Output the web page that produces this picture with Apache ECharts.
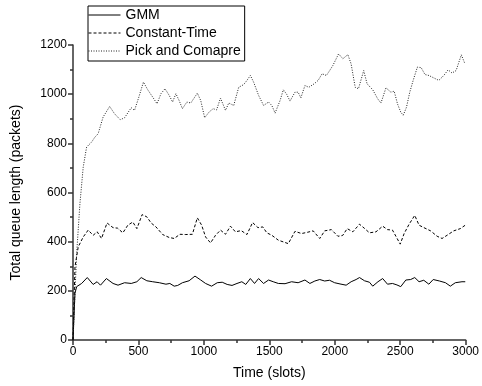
<!DOCTYPE html>
<html>
<head>
<meta charset="utf-8">
<script src="https://cdn.jsdelivr.net/npm/echarts@6/dist/echarts.min.js"></script>
<style>
html,body{margin:0;padding:0;background:#fff;}
#chartmain{width:482px;height:386px;}
</style>
</head>
<body>
<div id="chartmain"></div>
<script>
var seriesNames = ['GMM', 'Constant-Time', 'Pick and Comapre'];

var gmmTime = [0,15,28,40,66,109,154,184,210,255,306,344,394,445,488,521,564,609,660,710,740,773,800,836,887,932,976,1013,1059,1102,1140,1178,1215,1253,1290,1320,1355,1387,1418,1456,1494,1530,1569,1620,1670,1720,1772,1810,1848,1885,1923,1960,1999,2040,2087,2125,2163,2189,2227,2265,2290,2330,2366,2403,2441,2475,2504,2543,2580,2611,2644,2680,2719,2752,2800,2846,2883,2921,2972,2997];
var gmmQueue = [0,190,217,222,230,254,226,237,223,250,230,223,233,230,237,254,241,237,233,227,230,219,222,233,241,260,244,230,219,233,235,226,222,230,237,226,250,230,250,230,244,237,230,229,237,233,244,230,240,246,240,243,233,228,223,237,246,254,241,235,219,237,250,227,230,224,217,244,246,254,237,243,227,246,240,233,219,233,237,237];

var ctTime = [0,15,40,78,116,154,185,218,260,306,340,381,419,457,488,528,564,597,634,685,735,773,817,862,912,950,983,1013,1051,1089,1127,1165,1203,1241,1285,1329,1372,1413,1450,1481,1519,1569,1645,1696,1746,1790,1835,1885,1923,1974,2024,2060,2095,2138,2189,2225,2265,2315,2366,2403,2441,2467,2500,2530,2568,2611,2644,2681,2732,2782,2820,2858,2909,2959,2997];
var ctQueue = [0,298,379,419,447,426,440,413,476,457,455,436,467,480,453,510,501,476,460,429,417,413,430,429,430,497,467,419,395,426,447,430,463,440,445,429,478,457,460,436,426,406,392,442,433,438,444,413,444,449,422,425,453,440,471,455,436,440,463,449,447,422,390,433,471,507,467,457,444,422,413,426,444,453,467];

var pcTime = [0,28,53,78,104,142,167,192,230,280,318,361,394,445,470,503,538,571,609,642,672,703,735,761,786,811,836,870,900,950,976,1006,1039,1071,1097,1127,1165,1190,1228,1266,1304,1329,1355,1380,1418,1456,1494,1519,1544,1582,1607,1632,1658,1696,1720,1741,1772,1802,1842,1873,1903,1936,1961,1986,2029,2062,2100,2125,2156,2181,2221,2247,2290,2328,2353,2391,2429,2454,2479,2504,2523,2548,2573,2599,2631,2660,2689,2719,2757,2795,2833,2866,2896,2927,2967,2992];
var pcQueue = [0,352,555,703,785,805,825,839,907,950,920,896,904,945,934,988,1049,1018,988,961,1002,1022,995,968,1002,974,941,968,964,1004,974,904,927,941,936,984,934,964,954,1028,1039,1056,1076,1049,995,954,968,954,923,974,1018,1000,972,1008,1008,985,1035,1028,1042,1056,1083,1076,1096,1117,1164,1144,1161,1123,1028,1022,1096,1042,1018,981,964,1026,1008,1012,961,927,914,947,1008,1056,1110,1108,1080,1076,1066,1056,1076,1099,1086,1096,1160,1127];

function pairs(t, v){
	var out = [];
	for(var i=0;i<t.length;i++){
		out.push([t[i], v[i]]);
	}
	return out;
}

var font = 'Arial, "Liberation Sans", sans-serif';
var plain = function(v){ return String(v); };
var myChart = echarts.init(document.getElementById('chartmain'), null, {renderer:'canvas'});
var option = {
	animation: false,
	backgroundColor: '#fff',
	grid: {
		left: 73,
		right: 13,
		top: 45,
		bottom: 46
	},
	legend: {
		data: seriesNames,
		orient: 'vertical',
		left: 88,
		top: 6,
		padding: [2, 4, 3, 0],
		itemGap: 4,
		itemWidth: 32,
		itemHeight: 14,
		borderColor: '#000',
		borderWidth: 1,
		borderRadius: 0,
		itemStyle: {opacity: 0},
		lineStyle: {width: 1},
		textStyle: {color:'#000', fontSize:14, fontFamily:font}
	},
	xAxis: {
		type: 'value',
		min: 0,
		max: 3000,
		interval: 500,
		name: 'Time (slots)',
		nameLocation: 'middle',
		nameGap: 26,
		nameTextStyle: {color:'#000', fontSize:14, fontFamily:font},
		axisLine: {lineStyle:{color:'#333', width:1.5}},
		axisTick: {length:5, lineStyle:{color:'#333', width:1.5}},
		minorTick: {show:true, splitNumber:2, length:3, lineStyle:{color:'#333', width:1.5}},
		axisLabel: {color:'#000', fontSize:12, fontFamily:font, margin:6, formatter:plain},
		splitLine: {show:false}
	},
	yAxis: {
		type: 'value',
		min: 0,
		max: 1200,
		interval: 200,
		name: 'Total queue length (packets)',
		nameLocation: 'middle',
		nameGap: 50,
		nameTextStyle: {color:'#000', fontSize:14, fontFamily:font},
		axisLine: {show:true, lineStyle:{color:'#333', width:1.5}},
		axisTick: {show:true, length:5, lineStyle:{color:'#333', width:1.5}},
		minorTick: {show:true, splitNumber:2, length:3, lineStyle:{color:'#333', width:1.5}},
		axisLabel: {color:'#000', fontSize:12, fontFamily:font, margin:6, formatter:plain},
		splitLine: {show:false}
	},
	series: [
		{
			name: seriesNames[0],
			type: 'line',
			symbol: 'none',
			data: pairs(gmmTime, gmmQueue),
			lineStyle: {color:'#000', width:1, type:'solid'},
			itemStyle: {color:'#000'}
		},
		{
			name: seriesNames[1],
			type: 'line',
			symbol: 'none',
			data: pairs(ctTime, ctQueue),
			lineStyle: {color:'#000', width:1, type:[3,2]},
			itemStyle: {color:'#000'}
		},
		{
			name: seriesNames[2],
			type: 'line',
			symbol: 'none',
			data: pairs(pcTime, pcQueue),
			lineStyle: {color:'#222', width:1, type:[1,1.5]},
			itemStyle: {color:'#222'}
		}
	]
};
myChart.setOption(option);
</script>
</body>
</html>
